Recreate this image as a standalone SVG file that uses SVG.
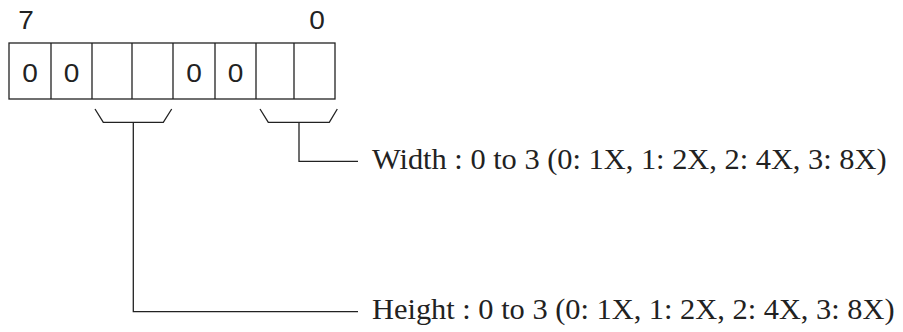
<svg xmlns="http://www.w3.org/2000/svg" width="903" height="332" viewBox="0 0 903 332">
<style>
.ln{fill:none;stroke:#222;stroke-width:1.3}
.d{font-family:"Liberation Sans",Arial,sans-serif;font-size:25.5px;fill:#222;text-anchor:middle}
.t{font-family:"Liberation Serif","Times New Roman",serif;font-size:30.4px;fill:#222}
</style>
<rect width="903" height="332" fill="#fff"/>
<g id="register">
<rect class="ln" x="9" y="43" width="326" height="56"/>
<path class="ln" d="M51 43V99M92 43V99M132 43V99M173 43V99M215 43V99M256 43V99M294 43V99"/>
<text class="d" transform="translate(26 29) scale(1.1 1)">7</text>
<text class="d" transform="translate(317 29) scale(1.1 1)">0</text>
<text class="d" transform="translate(30 81.5) scale(1.1 1)">0</text>
<text class="d" transform="translate(71.5 81.5) scale(1.1 1)">0</text>
<text class="d" transform="translate(194 81.5) scale(1.1 1)">0</text>
<text class="d" transform="translate(235.5 81.5) scale(1.1 1)">0</text>
</g>
<g id="connectors">
<path class="ln" d="M95 109L103.3 122.3H163.3L171.7 109"/>
<path class="ln" d="M260 109L268.3 122.3H329.3L337.3 109"/>
<path class="ln" d="M133.3 122.3V311.7H358"/>
<path class="ln" d="M299 122.3V161.3H358"/>
</g>
<g id="width-label">
<text class="t" x="372" y="169">Width : 0 to 3 (0: 1X, 1: 2X, 2: 4X, 3: 8X)</text>
</g>
<g id="height-label">
<text class="t" x="372" y="319">Height : 0 to 3 (0: 1X, 1: 2X, 2: 4X, 3: 8X)</text>
</g>
</svg>
